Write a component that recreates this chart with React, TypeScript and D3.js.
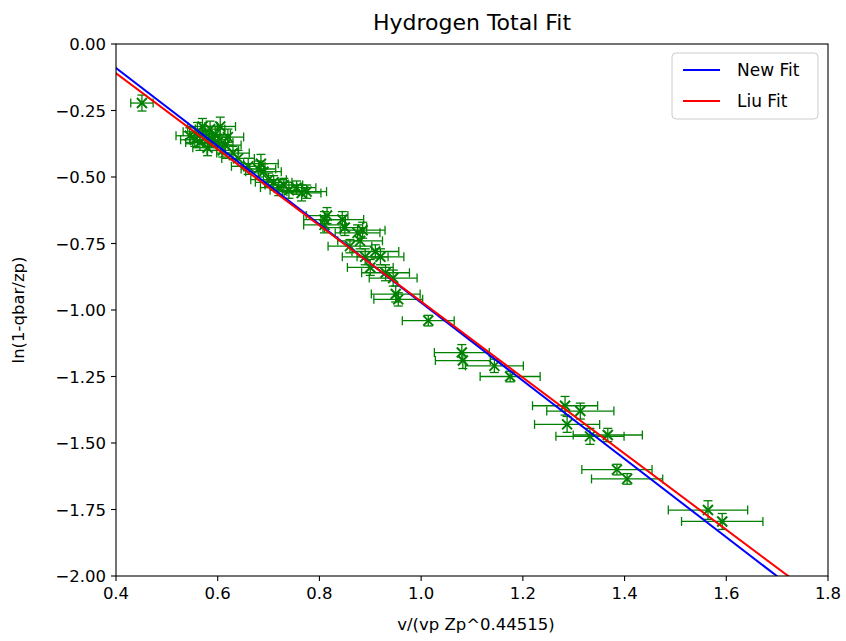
import React from "react";
import * as d3 from "d3";

// Measured points: v/(vp Zp^0.44515) against ln(1-qbar/zp)
const xValues = [
  0.451,
  0.545, 0.555, 0.56, 0.565, 0.57, 0.575, 0.58, 0.585, 0.59, 0.595, 0.6, 0.605, 0.61, 0.615, 0.62, 0.63, 0.64,
  0.66, 0.68, 0.685, 0.69, 0.70,
  0.71, 0.72, 0.73, 0.74, 0.755, 0.765, 0.775,
  0.81, 0.81, 0.815, 0.845, 0.85, 0.86, 0.875, 0.88, 0.885, 0.89, 0.90, 0.91, 0.92, 0.93, 0.945, 0.95, 0.955,
  1.014, 1.08, 1.082, 1.144, 1.175,
  1.283, 1.313, 1.287, 1.332, 1.367, 1.385, 1.405, 1.564, 1.592,
];
const yValues = [
  -0.222,
  -0.345, -0.36, -0.33, -0.37, -0.31, -0.35, -0.39, -0.32, -0.36, -0.34, -0.37, -0.31, -0.4, -0.38, -0.35, -0.41, -0.43,
  -0.46, -0.47, -0.45, -0.48, -0.51,
  -0.52, -0.54, -0.53, -0.55, -0.54, -0.56, -0.555,
  -0.66, -0.68, -0.645, -0.66, -0.69, -0.76, -0.71, -0.74, -0.7, -0.8, -0.84, -0.78, -0.8, -0.86, -0.88, -0.94, -0.96,
  -1.04, -1.16, -1.19, -1.21, -1.25,
  -1.36, -1.38, -1.43, -1.475, -1.47, -1.6, -1.635, -1.752, -1.795,
];
const xErrors = [
  0.022,
  0.027, 0.028, 0.028, 0.028, 0.029, 0.029, 0.029, 0.029, 0.03, 0.03, 0.03, 0.03, 0.031, 0.031, 0.031, 0.032, 0.032,
  0.033, 0.034, 0.034, 0.035, 0.035,
  0.036, 0.036, 0.037, 0.037, 0.038, 0.038, 0.039,
  0.041, 0.041, 0.041, 0.042, 0.043, 0.043, 0.044, 0.044, 0.044, 0.045, 0.045, 0.046, 0.046, 0.047, 0.047, 0.048, 0.048,
  0.051, 0.054, 0.054, 0.057, 0.059,
  0.064, 0.066, 0.064, 0.067, 0.068, 0.069, 0.07, 0.078, 0.08,
];
const yErrors = [
  0.03,
  0.03, 0.025, 0.035, 0.03, 0.03, 0.025, 0.03, 0.03, 0.025, 0.03, 0.03, 0.035, 0.025, 0.03, 0.03, 0.025, 0.03,
  0.03, 0.03, 0.035, 0.03, 0.025,
  0.025, 0.03, 0.025, 0.03, 0.025, 0.03, 0.025,
  0.03, 0.03, 0.03, 0.03, 0.03, 0.025, 0.03, 0.03, 0.03, 0.03, 0.03, 0.025, 0.03, 0.03, 0.03, 0.03, 0.025,
  0.02, 0.03, 0.03, 0.025, 0.02,
  0.035, 0.03, 0.03, 0.03, 0.025, 0.02, 0.02, 0.035, 0.03,
];

// Fitted lines: y = intercept + slope * x
const fitNames = ["New Fit", "Liu Fit"];
const fitColors = ["#0000ff", "#ff0000"];
const fitIntercepts = [0.498, 0.462];
const fitSlopes = [-1.47, -1.43];

const xTicks = [0.4, 0.6, 0.8, 1.0, 1.2, 1.4, 1.6, 1.8];
const yTicks = [0, -0.25, -0.5, -0.75, -1.0, -1.25, -1.5, -1.75, -2.0];

const W = 846;
const H = 641;
const plot = { left: 116, right: 828, top: 44, bottom: 576 };
const font = "'DejaVu Sans', sans-serif";
const green = "#008000";

export default function App() {
  const x = d3.scaleLinear().domain([0.4, 1.8]).range([plot.left, plot.right]);
  const y = d3.scaleLinear().domain([-2, 0]).range([plot.bottom, plot.top]);

  const line = d3
    .line<[number, number]>()
    .x((d) => x(d[0]))
    .y((d) => y(d[1]));

  const fmt = (v: number, digits: number) => {
    const s = Math.abs(v).toFixed(digits);
    return v < 0 ? "\u2212" + s : s;
  };

  const cap = 4.5;
  const mk = 5;

  return (
    <svg
      width={W}
      height={H}
      style={{ position: "absolute", left: 0, top: 0, background: "#fff" }}
      fontFamily={font}
    >
      <rect x={0} y={0} width={W} height={H} fill="#fff" />
      <defs>
        <clipPath id="plotClip">
          <rect x={plot.left} y={plot.top} width={plot.right - plot.left} height={plot.bottom - plot.top} />
        </clipPath>
      </defs>

      <g clipPath="url(#plotClip)">
        {xValues.map((xv, i) => {
          const cx = x(xv);
          const cy = y(yValues[i]);
          const x0 = x(xv - xErrors[i]);
          const x1 = x(xv + xErrors[i]);
          const y0 = y(yValues[i] - yErrors[i]);
          const y1 = y(yValues[i] + yErrors[i]);
          return (
            <g key={i} stroke={green} strokeWidth={1.3} fill="none">
              <line x1={x0} y1={cy} x2={x1} y2={cy} />
              <line x1={cx} y1={y0} x2={cx} y2={y1} />
              <line x1={x0} y1={cy - cap} x2={x0} y2={cy + cap} />
              <line x1={x1} y1={cy - cap} x2={x1} y2={cy + cap} />
              <line x1={cx - cap} y1={y0} x2={cx + cap} y2={y0} />
              <line x1={cx - cap} y1={y1} x2={cx + cap} y2={y1} />
              <line x1={cx - mk} y1={cy - mk} x2={cx + mk} y2={cy + mk} strokeWidth={2} />
              <line x1={cx - mk} y1={cy + mk} x2={cx + mk} y2={cy - mk} strokeWidth={2} />
            </g>
          );
        })}
        {fitNames.map((name, i) => {
          const pts: [number, number][] = [0.3, 1.9].map((xv) => [xv, fitIntercepts[i] + fitSlopes[i] * xv]);
          return <path key={name} d={line(pts) || ""} stroke={fitColors[i]} strokeWidth={2} fill="none" />;
        })}
      </g>

      <rect
        x={plot.left}
        y={plot.top}
        width={plot.right - plot.left}
        height={plot.bottom - plot.top}
        fill="none"
        stroke="#000"
        strokeWidth={1.1}
      />

      {xTicks.map((t) => (
        <g key={"x" + t}>
          <line x1={x(t)} x2={x(t)} y1={plot.bottom} y2={plot.bottom + 5} stroke="#000" strokeWidth={1.1} />
          <text x={x(t)} y={plot.bottom + 23} textAnchor="middle" fontSize={16.5} fill="#000">
            {fmt(t, 1)}
          </text>
        </g>
      ))}
      {yTicks.map((t) => (
        <g key={"y" + t}>
          <line x1={plot.left - 5} x2={plot.left} y1={y(t)} y2={y(t)} stroke="#000" strokeWidth={1.1} />
          <text x={plot.left - 10} y={y(t) + 6} textAnchor="end" fontSize={16.5} fill="#000">
            {fmt(t, 2)}
          </text>
        </g>
      ))}

      <text x={(plot.left + plot.right) / 2 + 4} y={630} textAnchor="middle" fontSize={16.5} fill="#000">
        v/(vp Zp^0.44515)
      </text>
      <text
        transform={`translate(24, ${(plot.top + plot.bottom) / 2}) rotate(-90)`}
        textAnchor="middle"
        fontSize={16.5}
        fill="#000"
      >
        ln(1-qbar/zp)
      </text>
      <text x={(plot.left + plot.right) / 2} y={30} textAnchor="middle" fontSize={22} fill="#000">
        Hydrogen Total Fit
      </text>

      <g>
        <rect x={672} y={53} width={146} height={66} rx={4} fill="#fff" fillOpacity={0.8} stroke="#ccc" strokeWidth={1} />
        {fitNames.map((name, i) => (
          <g key={name}>
            <line x1={683} x2={720} y1={70 + i * 31} y2={70 + i * 31} stroke={fitColors[i]} strokeWidth={2} />
            <text x={737} y={76 + i * 31} fontSize={17} fill="#000">
              {name}
            </text>
          </g>
        ))}
      </g>
    </svg>
  );
}
